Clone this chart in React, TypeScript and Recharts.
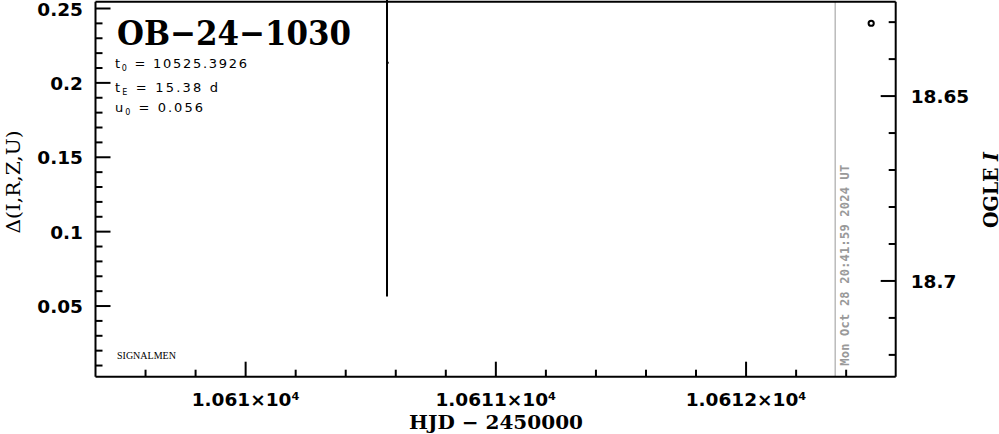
import { ComposedChart, Scatter, XAxis, YAxis, ErrorBar, ReferenceLine } from 'recharts';

// HJD - 2450000 axis
const hjdMajorTicks = [10610, 10611, 10612];
const hjdMinorTicks = [
  10609.6, 10609.8, 10610.2, 10610.4, 10610.6, 10610.8,
  10611.2, 10611.4, 10611.6, 10611.8, 10612.2, 10612.4,
];
const hjdDomain = [10609.4, 10612.598];

// left axis: Δ(I,R,Z,U)
const deltaMajorTicks = [0.05, 0.1, 0.15, 0.2, 0.25];
const deltaMinorTicks = [
  0.01, 0.02, 0.03, 0.04, 0.06, 0.07, 0.08, 0.09, 0.11, 0.12, 0.13, 0.14,
  0.16, 0.17, 0.18, 0.19, 0.21, 0.22, 0.23, 0.24,
];
const deltaDomain = [0.0025, 0.2545];

// right axis: OGLE I magnitude
const magMajorTicks = [18.65, 18.7];
const magMinorTicks = [18.63, 18.64, 18.66, 18.67, 18.68, 18.69, 18.71, 18.72];
const magDomain = [18.6245, 18.7259];

// photometry
const oglePoints = [{ hjd: 10612.5, mag: 18.6303 }];
const faintPoints = [{ hjd: 10610.565, mag: 18.641, err: 0.0632 }];

// "now" marker
const nowHjd = 10612.356;
const nowLabel = 'Mon Oct 28 20:41:59 2024 UT';

const tickFont = '"DejaVu Sans", sans-serif';
const serif = '"DejaVu Serif", serif';

const isMajor = (list: number[], v: number) => list.some((m) => Math.abs(m - v) < 1e-9);

const BottomTick = (props: any) => {
  const { x, y, payload } = props;
  const major = isMajor(hjdMajorTicks, payload.value);
  return (
    <g>
      <line x1={x} x2={x} y1={y} y2={y - (major ? 15 : 7)} stroke="#000" strokeWidth={2} />
      {major && (
        <text x={x} y={y + 29} textAnchor="middle" fontFamily={tickFont} fontWeight="bold" fontSize={18.5} fill="#000">
          {`${payload.value / 10000}×10⁴`}
        </text>
      )}
    </g>
  );
};

const TopTick = (props: any) => {
  const { x, y, payload } = props;
  const major = isMajor(hjdMajorTicks, payload.value);
  return <line x1={x} x2={x} y1={y} y2={y + (major ? 15 : 7)} stroke="#000" strokeWidth={2} />;
};

const LeftTick = (props: any) => {
  const { x, y, payload } = props;
  const major = isMajor(deltaMajorTicks, payload.value);
  return (
    <g>
      <line x1={x} x2={x + (major ? 15 : 7)} y1={y} y2={y} stroke="#000" strokeWidth={2} />
      {major && (
        <text x={x - 12.5} y={y + 7} textAnchor="end" fontFamily={tickFont} fontWeight="bold" fontSize={18.5} fill="#000">
          {String(payload.value)}
        </text>
      )}
    </g>
  );
};

const RightTick = (props: any) => {
  const { x, y, payload } = props;
  const major = isMajor(magMajorTicks, payload.value);
  return (
    <g>
      <line x1={x} x2={x - (major ? 15 : 7)} y1={y} y2={y} stroke="#000" strokeWidth={2} />
      {major && (
        <text x={x + 15} y={y + 6.7} textAnchor="start" fontFamily={tickFont} fontWeight="bold" fontSize={18.5} fill="#000">
          {String(payload.value)}
        </text>
      )}
    </g>
  );
};

const NowLabel = (props: any) => {
  const vb = props.viewBox || {};
  const tx = vb.x + 14;
  const ty = vb.y + vb.height - 11;
  return (
    <text
      x={tx}
      y={ty}
      transform={`rotate(-90 ${tx} ${ty})`}
      fontFamily='"DejaVu Sans Mono", monospace'
      fontWeight="bold"
      fontSize={12}
      fill="#999"
      textLength={201}
      lengthAdjust="spacing"
    >
      {nowLabel}
    </text>
  );
};

const OpenCircle = (props: any) => (
  <circle cx={props.cx} cy={props.cy} r={2.6} fill="none" stroke="#000" strokeWidth={2} />
);

const TinyDot = (props: any) => (
  <circle cx={props.cx + 0.5} cy={props.cy} r={1.3} fill="#000" />
);

const axisLine = { stroke: '#000', strokeWidth: 2 };

export default function App() {
  return (
    <div style={{ position: 'fixed', left: 0, top: 0, width: 999, height: 434, background: '#fff' }}>
      <ComposedChart width={999} height={434} margin={{ top: 0, right: 0, bottom: 0, left: 0 }}>
        <XAxis
          xAxisId="b"
          type="number"
          dataKey="hjd"
          orientation="bottom"
          domain={hjdDomain}
          allowDataOverflow
          ticks={[...hjdMinorTicks, ...hjdMajorTicks]}
          interval={0}
          height={57.3}
          tickSize={0}
          tickMargin={0}
          tickLine={false}
          axisLine={axisLine}
          tick={<BottomTick />}
        />
        <XAxis
          xAxisId="t"
          type="number"
          orientation="top"
          domain={hjdDomain}
          allowDataOverflow
          ticks={[...hjdMinorTicks, ...hjdMajorTicks]}
          interval={0}
          height={1.8}
          tickSize={0}
          tickMargin={0}
          tickLine={false}
          axisLine={axisLine}
          tick={<TopTick />}
        />
        <YAxis
          yAxisId="d"
          type="number"
          orientation="left"
          domain={deltaDomain}
          allowDataOverflow
          ticks={[...deltaMinorTicks, ...deltaMajorTicks]}
          interval={0}
          width={95.5}
          tickSize={0}
          tickMargin={0}
          tickLine={false}
          axisLine={axisLine}
          tick={<LeftTick />}
        />
        <YAxis
          yAxisId="m"
          type="number"
          orientation="right"
          dataKey="mag"
          domain={magDomain}
          reversed
          allowDataOverflow
          ticks={[...magMinorTicks, ...magMajorTicks]}
          interval={0}
          width={103.3}
          tickSize={0}
          tickMargin={0}
          tickLine={false}
          axisLine={axisLine}
          tick={<RightTick />}
        />
        <ReferenceLine
          xAxisId="b"
          yAxisId="m"
          x={nowHjd}
          stroke="#999"
          strokeWidth={1}
          label={<NowLabel />}
        />
        <Scatter
          xAxisId="b"
          yAxisId="m"
          data={faintPoints}
          dataKey="mag"
          shape={<TinyDot />}
          isAnimationActive={false}
        >
          <ErrorBar dataKey="err" direction="y" width={0} stroke="#000" strokeWidth={2} isAnimationActive={false} />
        </Scatter>
        <Scatter
          xAxisId="b"
          yAxisId="m"
          data={oglePoints}
          dataKey="mag"
          shape={<OpenCircle />}
          isAnimationActive={false}
        />
      </ComposedChart>
      <svg
        width={999}
        height={434}
        style={{ position: 'absolute', left: 0, top: 0, pointerEvents: 'none' }}
      >
        <text x={117} y={45} fontFamily={serif} fontWeight="bold" fontSize={34} textLength={234} lengthAdjust="spacingAndGlyphs">
          OB−24−1030
        </text>
        <text x={115} y={67.7} fontFamily={tickFont} fontSize={13} textLength={132} lengthAdjust="spacing">
          t<tspan fontSize={8} dy={3}>0</tspan>
          <tspan dy={-3}>{' = 10525.3926'}</tspan>
        </text>
        <text x={115} y={91.7} fontFamily={tickFont} fontSize={13} textLength={103} lengthAdjust="spacing">
          t<tspan fontSize={8} dy={3}>E</tspan>
          <tspan dy={-3}>{' = 15.38 d'}</tspan>
        </text>
        <text x={115} y={111.7} fontFamily={tickFont} fontSize={13} textLength={88} lengthAdjust="spacing">
          u<tspan fontSize={8} dy={3}>0</tspan>
          <tspan dy={-3}>{' = 0.056'}</tspan>
        </text>
        <text x={117} y={359} fontFamily='"Liberation Serif", serif' fontSize={10}>
          SIGNALMEN
        </text>
        <text
          x={20}
          y={182}
          transform="rotate(-90 20 182)"
          textAnchor="middle"
          fontFamily={serif}
          fontSize={18}
          textLength={103}
          lengthAdjust="spacingAndGlyphs"
        >
          Δ(I,R,Z,U)
        </text>
        <text
          x={998}
          y={190}
          transform="rotate(-90 998 190)"
          textAnchor="middle"
          fontFamily={serif}
          fontWeight="bold"
          fontSize={20}
          textLength={76}
          lengthAdjust="spacingAndGlyphs"
        >
          OGLE <tspan fontStyle="italic">I</tspan>
        </text>
        <text
          x={496}
          y={429}
          textAnchor="middle"
          fontFamily={serif}
          fontWeight="bold"
          fontSize={19}
          textLength={174}
          lengthAdjust="spacingAndGlyphs"
        >
          HJD − 2450000
        </text>
      </svg>
    </div>
  );
}
